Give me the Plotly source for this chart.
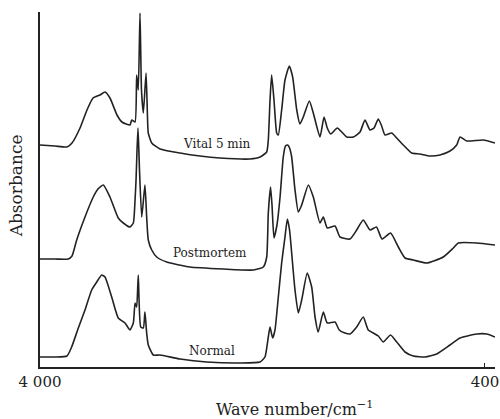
import plotly.graph_objects as go

# Wave numbers (cm^-1) and absorbance (arbitrary units, stacked)
vital_wn = [4000, 3879, 3782, 3741, 3676, 3620, 3571, 3515, 3474, 3434, 3377, 3337, 3272, 3258, 3231,
            3218, 3205, 3191, 3179, 3164, 3142, 3132, 3124, 3096, 3029, 2867, 2706, 2544, 2301, 2220,
            2166, 2153, 2139, 2126, 2107, 2085, 2072, 2045, 2018, 1983, 1956, 1923, 1897, 1870, 1821,
            1789, 1735, 1702, 1676, 1648, 1595, 1559, 1519, 1465, 1411, 1371, 1330, 1298, 1263, 1236,
            1209, 1155, 1114, 1061, 993, 926, 845, 764, 683, 629, 602, 548, 414, 319]
vital_abs = [2.22, 2.21, 2.20, 2.24, 2.39, 2.57, 2.69, 2.72, 2.75, 2.69, 2.52, 2.45, 2.42, 2.47, 2.45,
             2.92, 2.77, 3.54, 2.77, 2.54, 2.94, 2.57, 2.34, 2.24, 2.18, 2.14, 2.11, 2.09, 2.08, 2.10,
             2.15, 2.27, 2.67, 2.92, 2.67, 2.34, 2.32, 2.57, 2.87, 3.01, 2.90, 2.57, 2.43, 2.50, 2.66,
             2.54, 2.30, 2.50, 2.39, 2.33, 2.39, 2.35, 2.30, 2.30, 2.35, 2.47, 2.37, 2.39, 2.48, 2.41,
             2.32, 2.34, 2.29, 2.22, 2.14, 2.13, 2.11, 2.12, 2.16, 2.22, 2.30, 2.26, 2.27, 2.24]

post_wn = [4000, 3879, 3773, 3741, 3703, 3636, 3569, 3531, 3488, 3434, 3367, 3326, 3272, 3245, 3231,
           3223, 3215, 3207, 3195, 3177, 3151, 3137, 3124, 3096, 3056, 2975, 2787, 2517, 2274, 2193,
           2166, 2153, 2135, 2123, 2107, 2083, 2058, 2032, 2014, 1996, 1981, 1964, 1937, 1910, 1883,
           1829, 1789, 1735, 1708, 1676, 1613, 1573, 1492, 1438, 1385, 1330, 1278, 1233, 1164, 1101,
           1047, 980, 872, 737, 656, 616, 467, 319]
post_abs = [1.08, 1.08, 1.08, 1.11, 1.27, 1.50, 1.70, 1.78, 1.82, 1.70, 1.49, 1.44, 1.40, 1.44, 1.67,
            1.87, 2.17, 2.39, 1.97, 1.50, 1.82, 1.50, 1.27, 1.17, 1.10, 1.05, 1.00, 0.98, 0.97, 1.00,
            1.10, 1.54, 1.80, 1.62, 1.29, 1.42, 1.70, 2.10, 2.21, 2.22, 2.19, 2.10, 1.77, 1.55, 1.62,
            1.82, 1.70, 1.44, 1.50, 1.39, 1.41, 1.30, 1.28, 1.37, 1.47, 1.37, 1.40, 1.28, 1.34, 1.20,
            1.09, 1.07, 1.04, 1.10, 1.19, 1.24, 1.24, 1.22]

normal_wn = [4000, 3879, 3782, 3744, 3690, 3636, 3582, 3541, 3501, 3474, 3420, 3367, 3312, 3272, 3245,
             3231, 3218, 3205, 3185, 3164, 3151, 3137, 3124, 3083, 3029, 2867, 2651, 2382, 2220, 2180,
             2153, 2139, 2118, 2099, 2072, 2045, 2018, 1999, 1981, 1964, 1937, 1910, 1883, 1838, 1802,
             1775, 1749, 1708, 1676, 1613, 1579, 1533, 1492, 1438, 1385, 1344, 1290, 1263, 1223, 1164,
             1114, 1047, 980, 885, 791, 683, 602, 467, 386, 319]
normal_abs = [0.10, 0.10, 0.11, 0.20, 0.39, 0.57, 0.77, 0.85, 0.92, 0.90, 0.70, 0.49, 0.44, 0.37, 0.44,
              0.64, 0.60, 0.92, 0.40, 0.39, 0.55, 0.34, 0.22, 0.12, 0.12, 0.08, 0.05, 0.04, 0.05, 0.10,
              0.30, 0.40, 0.29, 0.37, 0.70, 1.04, 1.30, 1.48, 1.37, 1.14, 0.77, 0.54, 0.67, 0.94, 0.80,
              0.50, 0.35, 0.55, 0.44, 0.45, 0.37, 0.34, 0.33, 0.40, 0.50, 0.37, 0.33, 0.31, 0.25, 0.32,
              0.25, 0.15, 0.11, 0.10, 0.13, 0.22, 0.29, 0.33, 0.33, 0.30]

series_names = ["Vital 5 min", "Postmortem", "Normal"]
label_wn = [2568, 2625, 2611]
label_abs = [2.23, 1.14, 0.16]

tick_vals = [4000, 400]
tick_text = ["4 000", "400"]

FONT = "DejaVu Serif"
INK = "#222222"

fig = go.Figure()
for wn, ab, name in [(vital_wn, vital_abs, series_names[0]),
                     (post_wn, post_abs, series_names[1]),
                     (normal_wn, normal_abs, series_names[2])]:
    fig.add_trace(go.Scatter(x=wn, y=ab, mode="lines", name=name,
                             line=dict(color=INK, width=1.6, shape="spline", smoothing=0.5),
                             showlegend=False))

for name, x, y in zip(series_names, label_wn, label_abs):
    fig.add_annotation(x=x, y=y, text=name, showarrow=False,
                       font=dict(family=FONT, size=12, color=INK))

fig.add_annotation(xref="paper", yref="paper", x=0.56, y=-0.118, xanchor="center", yanchor="middle",
                   text="Wave number/cm<sup>−1</sup>",
                   showarrow=False, font=dict(family=FONT, size=16, color=INK))
fig.add_annotation(xref="paper", yref="paper", x=-0.052, y=0.51, xanchor="center", yanchor="middle",
                   text="Absorbance", textangle=-90,
                   showarrow=False, font=dict(family=FONT, size=17, color=INK))

fig.update_layout(
    width=500, height=419,
    margin=dict(l=40, r=5, t=12, b=52, autoexpand=False),
    paper_bgcolor="white", plot_bgcolor="white",
    xaxis=dict(range=[4000, 319], showgrid=False, zeroline=False, automargin=False,
               showline=True, linecolor=INK, linewidth=2,
               tickvals=tick_vals, ticktext=tick_text, ticks="inside", ticklen=4,
               tickcolor=INK, tickfont=dict(family=FONT, size=15, color=INK)),
    yaxis=dict(range=[0, 3.55], showgrid=False, zeroline=False, automargin=False,
               showline=True, linecolor=INK, linewidth=1.5,
               showticklabels=False, ticks=""),
)

fig.write_html("out.html", config={"displayModeBar": False},
               post_script="document.body.style.margin='0';document.body.style.overflow='hidden';")
